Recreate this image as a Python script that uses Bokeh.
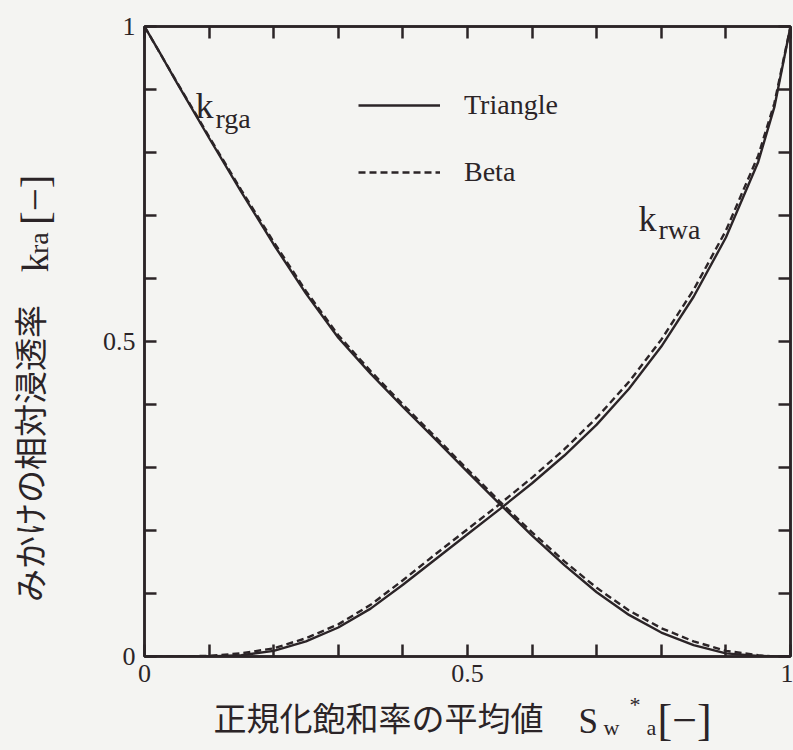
import math

from bokeh.plotting import figure
from bokeh.layouts import row, column
from bokeh.models import (Range1d, LinearAxis, FixedTicker, CustomJSTickFormatter,
                          Label, Legend, LegendItem)
from bokeh.embed import file_html
from bokeh.resources import INLINE

# Mean normalised saturation S_w*_a
sw = [0.0, 0.025, 0.05, 0.1, 0.15, 0.2, 0.25, 0.3, 0.35, 0.4, 0.45, 0.5,
      0.55, 0.6, 0.65, 0.7, 0.75, 0.8, 0.85, 0.9, 0.95, 0.975, 1.0]

# Apparent relative permeability of the gas phase, k_rga
krga_triangle = [1.0, 0.956, 0.911, 0.823, 0.737, 0.654, 0.576, 0.506, 0.449, 0.396,
                 0.345, 0.293, 0.242, 0.192, 0.145, 0.102, 0.066, 0.038, 0.018,
                 0.005, 0.001, 0.0, 0.0]
krga_beta = [1.0, 0.956, 0.912, 0.825, 0.740, 0.658, 0.580, 0.510, 0.453, 0.400,
             0.349, 0.297, 0.246, 0.197, 0.151, 0.109, 0.073, 0.045, 0.024,
             0.009, 0.002, 0.0, 0.0]

# Apparent relative permeability of the water phase, k_rwa
krwa_triangle = [0.0, 0.0, 0.0, 0.0, 0.002, 0.009, 0.024, 0.046, 0.076, 0.114,
                 0.154, 0.194, 0.234, 0.275, 0.319, 0.368, 0.425, 0.492, 0.571,
                 0.665, 0.785, 0.872, 1.0]
krwa_beta = [0.0, 0.0, 0.0, 0.001, 0.005, 0.013, 0.029, 0.051, 0.082, 0.121,
             0.162, 0.202, 0.242, 0.284, 0.329, 0.379, 0.436, 0.503, 0.582,
             0.676, 0.795, 0.878, 1.0]

tick_values = [0.0, 0.1, 0.2, 0.3, 0.4, 0.5, 0.6, 0.7, 0.8, 0.9, 1.0]

INK = "#2b2427"
PAPER = "#f4f4f2"
SERIF = "Liberation Serif"
JP = "Noto Sans CJK JP"

# Page split: a strip on the left for the y title, the plot, and a strip below
LEFT_W, PAGE_W, PAGE_H, BOTTOM_H = 74, 793, 750, 58
MAIN_W, MAIN_H = PAGE_W - LEFT_W, PAGE_H - BOTTOM_H

p = figure(width=MAIN_W, height=MAIN_H, output_backend="svg", toolbar_location=None,
           x_range=Range1d(0, 1), y_range=Range1d(0, 1),
           min_border_left=70, min_border_right=3,
           min_border_top=26, min_border_bottom=MAIN_H - 656)
p.background_fill_color = PAPER
p.border_fill_color = PAPER
p.outline_line_color = INK
p.outline_line_width = 2.5
p.xgrid.visible = False
p.ygrid.visible = False

label_fmt = CustomJSTickFormatter(code="""
    if (Math.abs(tick) < 1e-9) return '0';
    if (Math.abs(tick - 0.5) < 1e-9) return '0.5';
    if (Math.abs(tick - 1) < 1e-9) return '1';
    return '';
""")
blank_fmt = CustomJSTickFormatter(code="return '';")


def style_axis(ax, labelled, standoff):
    ax.ticker = FixedTicker(ticks=tick_values)
    ax.formatter = label_fmt if labelled else blank_fmt
    ax.major_tick_in = 12
    ax.major_tick_out = 0
    ax.minor_tick_in = 0
    ax.minor_tick_out = 0
    ax.major_tick_line_color = INK
    ax.major_tick_line_width = 2.5
    ax.axis_line_color = INK
    ax.axis_line_width = 2.5
    ax.major_label_text_font = SERIF
    ax.major_label_text_font_size = "26px" if labelled else "0px"
    ax.major_label_text_line_height = 1.0
    ax.major_label_text_color = INK
    ax.major_label_standoff = standoff


style_axis(p.xaxis[0], True, 8)
style_axis(p.yaxis[0], True, 9)
top_axis = LinearAxis()
right_axis = LinearAxis()
style_axis(top_axis, False, 0)
style_axis(right_axis, False, 0)
p.add_layout(top_axis, "above")
p.add_layout(right_axis, "right")

# Curves
solid = dict(line_color=INK, line_width=2.4)
dashed = dict(line_color=INK, line_width=2.4, line_dash="7 4")
g_tri = p.line(sw, krga_triangle, **solid)
g_beta = p.line(sw, krga_beta, **dashed)
p.line(sw, krwa_triangle, **solid)
p.line(sw, krwa_beta, **dashed)

legend = Legend(items=[LegendItem(label="Triangle", renderers=[g_tri]),
                       LegendItem(label="Beta", renderers=[g_beta])],
                location=(214, 467), orientation="vertical",
                glyph_width=82, glyph_height=34, label_height=34,
                label_standoff=24, spacing=33, padding=0, margin=0,
                border_line_alpha=0, background_fill_alpha=0,
                label_text_font=SERIF, label_text_font_size="28px",
                label_text_color=INK)
p.add_layout(legend)


def put(fig, x, y, text, size, font=SERIF, angle=0.0, baseline="alphabetic"):
    fig.add_layout(Label(x=x, y=y, text=text, text_font=font,
                         text_font_size=f"{size}px", text_color=INK,
                         text_align="left", text_baseline=baseline, angle=angle))


# Curve names
put(p, 0.0789, 0.8746, "k", 36)
put(p, 0.1099, 0.8543, "rga", 28)
put(p, 0.7647, 0.6952, "k", 36)
put(p, 0.7957, 0.6781, "rwa", 28)


def strip(width, height, y_top):
    # A bare canvas whose data units are page pixels (y grows downward)
    f = figure(width=width, height=height, output_backend="svg", toolbar_location=None,
               x_range=Range1d(0, width), y_range=Range1d(y_top + height, y_top),
               x_axis_type=None, y_axis_type=None, min_border=0)
    f.background_fill_color = PAPER
    f.border_fill_color = PAPER
    f.outline_line_color = None
    f.grid.visible = False
    return f


# y-axis title: みかけの相対浸透率  k_ra [−]
left = strip(LEFT_W, MAIN_H, 0)
up = math.pi / 2
put(left, 28, 632, "みかけの相対浸透率", 33, font=JP, angle=up, baseline="middle")
put(left, 34, 270, "k", 38, angle=up)
put(left, 37.5, 250, "ra", 28, angle=up)
put(left, 34, 218, "[−]", 41, angle=up)

# x-axis title: 正規化飽和率の平均値  S_w*_a [−]
bottom = strip(PAGE_W, BOTTOM_H, MAIN_H)
put(bottom, 213, 716, "正規化飽和率の平均値", 33, font=JP, baseline="middle")
put(bottom, 578, 721, "S", 35)
put(bottom, 603, 726.5, "w", 22)
put(bottom, 629, 704, "*", 22)
put(bottom, 646, 726.5, "a", 22)
put(bottom, 657, 720, "[−]", 44)

top_row = row(left, p)
top_row.styles = {"background-color": PAPER}
page = column(top_row, bottom)
page.styles = {"background-color": PAPER}
open("out.html", "w").write(file_html(page, INLINE))
